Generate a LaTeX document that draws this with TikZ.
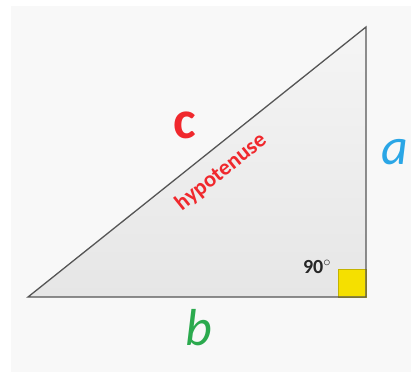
\documentclass[tikz,border=0pt]{standalone}
\usepackage{fontspec}
\setmainfont{Carlito}
\definecolor{bgpanel}{HTML}{F8F8F8}
\definecolor{tri}{HTML}{E6E6E6}
\definecolor{edge}{HTML}{555555}
\definecolor{cred}{HTML}{F0282D}
\definecolor{ablue}{HTML}{2AA6E6}
\definecolor{bgreen}{HTML}{2BAA4E}
\definecolor{sqyellow}{HTML}{F5E000}
\begin{document}
\begin{tikzpicture}[x=1pt,y=-1pt,
  side/.style={draw=edge,line width=1.3pt,line join=miter},
  lbl/.style={inner sep=0pt,font=\bfseries}]
\useasboundingbox (0,0) rectangle (411,380);
\fill[white] (0,0) rectangle (411,380);
\fill[bgpanel] (11,6) rectangle (411,372);
\coordinate (A) at (28,297);
\coordinate (C) at (366,297);
\coordinate (B) at (366,27);
\shade[top color=tri!40!white,bottom color=tri] (A) -- (C) -- (B) -- cycle;
\fill[sqyellow,draw=sqyellow!80!black,line width=0.6pt] (338,269) rectangle (366,297);
\draw[side] (A) -- (C) -- (B) -- cycle;
\node[lbl,text=cred,font=\bfseries\fontsize{54}{54}\selectfont] (c) at (185,125) {c};
\node[lbl,text=ablue,font=\itshape\fontsize{52}{52}\selectfont] (a) at (395,152) {a};
\node[lbl,text=bgreen,font=\itshape\fontsize{52}{52}\selectfont] (b) at (199,328) {b};
\node[lbl,text=cred,rotate=38.6,font=\bfseries\fontsize{22.5}{22.5}\selectfont] (h) at (221,172) {hypotenuse};
\node[lbl,text=black!85,font=\bfseries\fontsize{20}{20}\selectfont] (r) at (317,267) {90$^\circ$};
\end{tikzpicture}
\end{document}
